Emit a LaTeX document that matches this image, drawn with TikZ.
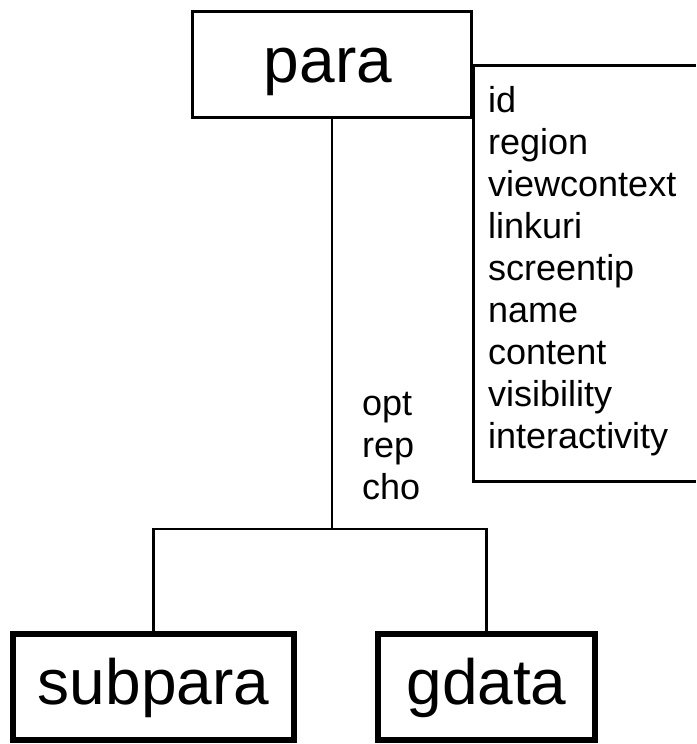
\documentclass[tikz,border=0pt]{standalone}
\usepackage{fontspec}
\setmainfont{Liberation Sans}
\begin{document}
\begin{tikzpicture}[x=1pt,y=-1pt,
  box/.style={draw=black,rectangle,inner sep=0pt},
  thinbox/.style={box,line width=3pt},
  thickbox/.style={box,line width=6pt},
  conn/.style={draw=black,line width=2.5pt},
  big/.style={font=\fontsize{64}{70}\selectfont,inner sep=0pt,anchor=base},
  small/.style={font=\fontsize{36}{42}\selectfont,inner sep=0pt,anchor=base west}]
\useasboundingbox (0,0) rectangle (696,744);
% boxes
\node[thinbox,minimum width=279pt,minimum height=106pt] (para) at (331.5,64) {};
\node[thickbox,minimum width=281pt,minimum height=106pt] (subpara) at (153.5,687) {};
\node[thickbox,minimum width=217pt,minimum height=106pt] (gdata) at (486.5,687) {};
% labels
\node[big] (paratxt) at (328,82) {para};
\node[big] (subparatxt) at (153.5,704) {subpara};
\node[big] (gdatatxt) at (486.5,704) {gdata};
% attribute box
\coordinate (atl) at (473,65);
\coordinate (abl) at (473,481);
\draw[line width=3pt] (696,65) -- (atl) -- (abl) -- (696,481);
\foreach \t [count=\i from 0] in {id,region,viewcontext,linkuri,screentip,name,content,visibility,interactivity}
  \node[small] (attr\i) at (488,112+42*\i) {\t};
% connectors
\coordinate (j) at (332,529);
\draw[conn] (para.south -| j) -- (j);
\draw[conn] (subpara.north) |- (j) -| (gdata.north);
% occurrence labels
\node[small] (opt) at (362,415) {opt};
\node[small] (rep) at (362,457) {rep};
\node[small] (cho) at (362,499) {cho};
\end{tikzpicture}
\end{document}
